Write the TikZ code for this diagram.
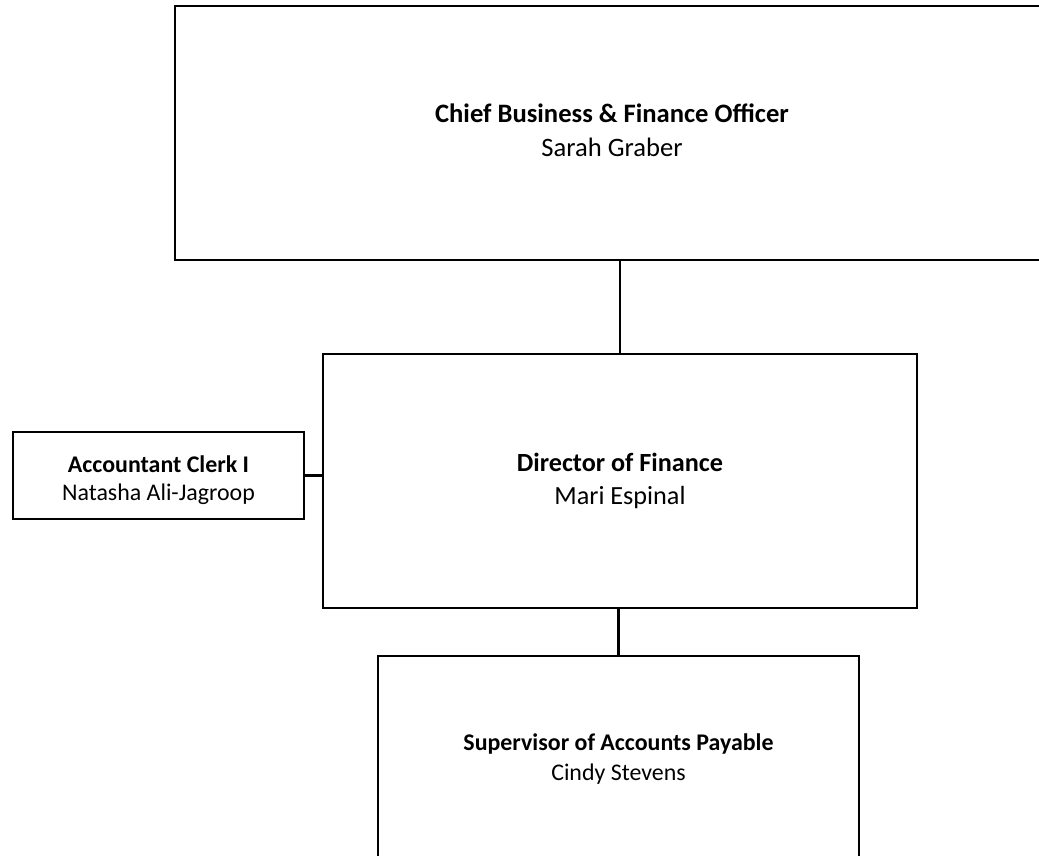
\documentclass[tikz,border=0pt]{standalone}
\usepackage{fontspec}
\setmainfont{Carlito}
\begin{document}
\begin{tikzpicture}[x=1bp,y=-1bp,
  box/.style={draw=black, line width=2.6bp, rectangle, inner sep=0pt},
  txt/.style={inner sep=0pt, align=center},
  conn/.style={draw=black, line width=2.6bp}]
\useasboundingbox (0,0) rectangle (1039,856);
\begin{scope}
\clip (0,0) rectangle (1039,856);
\node[box, minimum width=874bp, minimum height=254bp] (cbfo) at (612,133) {};
\node[txt, font=\fontsize{26.7}{34}\selectfont] (cbfoT) at ([yshift=3bp]cbfo.center)
  {\textbf{Chief Business \& Finance Officer}\\Sarah Graber};
\node[box, minimum width=594bp, minimum height=254bp] (dir) at (620,481) {};
\node[txt, font=\fontsize{26.3}{33}\selectfont] (dirT) at (dir.center)
  {\textbf{Director of Finance}\\Mari Espinal};
\node[box, minimum width=291bp, minimum height=87bp] (acc) at (158.5,475.5) {};
\node[txt, font=\fontsize{24}{28}\selectfont] (accT) at ([yshift=-4.5bp]acc.center)
  {\textbf{Accountant Clerk I}\\Natasha Ali-Jagroop};
\node[box, minimum width=481bp, minimum height=206bp] (sup) at (618.5,759) {};
\node[txt, font=\fontsize{24}{31}\selectfont] (supT) at (sup.center)
  {\textbf{Supervisor of Accounts Payable}\\Cindy Stevens};
\draw[conn] (dir.north) -- (dir.north |- cbfo.south);
\draw[conn] (sup.north) -- (sup.north |- dir.south);
\draw[conn] (acc.east) -- (acc.east -| dir.west);
\end{scope}
\end{tikzpicture}
\end{document}
